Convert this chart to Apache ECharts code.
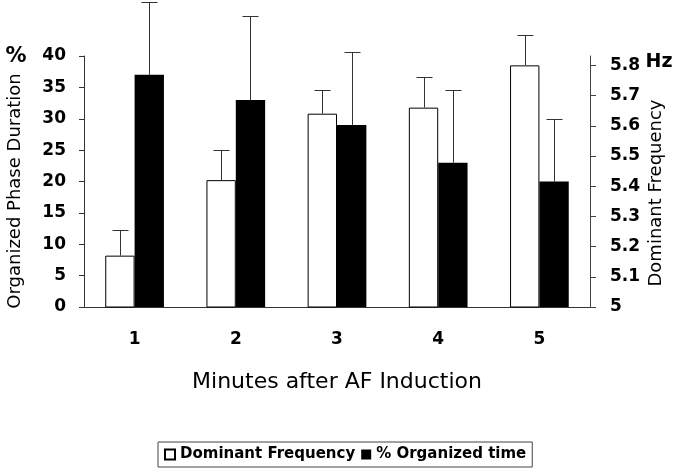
<!DOCTYPE html>
<html>
<head>
<meta charset="utf-8">
<script src="https://cdn.jsdelivr.net/npm/echarts@6/dist/echarts.min.js"></script>
<style>
  html, body { margin: 0; padding: 0; background: #fff; }
  #main { width: 676px; height: 472px; }
</style>
</head>
<body>
<div id="main"></div>
<script>
// minutes after induction
var minutes = ['1', '2', '3', '4', '5'];
// dominant frequency (Hz), right axis
var domFreq = [5.17, 5.42, 5.64, 5.66, 5.80];
var domFreqErr = [0.085, 0.10, 0.08, 0.10, 0.10];
// % organized time, left axis
var orgTime = [37, 33, 29, 23, 20];
var orgTimeErr = [11.6, 13.4, 11.7, 11.6, 9.9];
// right axis tick labels
var hzTicks = [5, 5.1, 5.2, 5.3, 5.4, 5.5, 5.6, 5.7, 5.8];

var FONT = 'DejaVu Sans';
var myChart = echarts.init(document.getElementById('main'));

// error bar drawn above the bar; shift -1 = left bar, +1 = right bar
function errorBar(shift) {
  return function (params, api) {
    var band = api.size([1, 0])[0];
    var dx = band * 0.58 / 4 * shift;
    var base = api.coord([api.value(0), api.value(1)]);
    var top = api.coord([api.value(0), api.value(1) + api.value(2)]);
    var x = Math.round(base[0] + dx) + 0.5;
    var yTop = Math.round(top[1]) + 0.5;
    var style = { stroke: '#333', lineWidth: 1 };
    return {
      type: 'group',
      children: [
        { type: 'line', shape: { x1: x, y1: base[1], x2: x, y2: yTop }, style: style },
        { type: 'line', shape: { x1: x - 8, y1: yTop, x2: x + 8, y2: yTop }, style: style }
      ]
    };
  };
}

var option = {
  animation: false,
  backgroundColor: '#fff',
  grid: { left: 84, right: 86, top: 56, bottom: 165 },
  legend: {
    data: ['Dominant Frequency', '% Organized time'],
    left: 158,
    top: 442,
    padding: [5, 6],
    itemGap: 6,
    itemWidth: 10,
    itemHeight: 10,
    icon: 'rect',
    borderColor: '#444',
    borderWidth: 1,
    textStyle: { fontFamily: FONT, fontWeight: 'bold', fontSize: 15, color: '#000' }
  },
  xAxis: {
    type: 'category',
    data: minutes,
    name: 'Minutes after AF Induction',
    nameLocation: 'middle',
    nameGap: 64,
    nameTextStyle: { fontFamily: FONT, fontSize: 22, color: '#000' },
    axisLine: { lineStyle: { color: '#333', width: 1 } },
    axisTick: { length: 6, lineStyle: { color: '#333' } },
    axisLabel: { margin: 24, fontFamily: FONT, fontWeight: 'bold', fontSize: 17, color: '#000' }
  },
  yAxis: [
    {
      type: 'value',
      min: 0,
      max: 40,
      interval: 5,
      splitLine: { show: false },
      axisLine: { show: true, lineStyle: { color: '#333', width: 1 } },
      axisTick: { show: true, length: 5, lineStyle: { color: '#333' } },
      axisLabel: { margin: 18, fontFamily: FONT, fontWeight: 'bold', fontSize: 17, color: '#000' }
    },
    {
      type: 'value',
      min: 5,
      max: 5.831,
      interval: 0.1,
      position: 'right',
      splitLine: { show: false },
      axisLine: { show: true, lineStyle: { color: '#444', width: 1 } },
      axisTick: { show: true, length: 6, customValues: hzTicks, lineStyle: { color: '#444' } },
      axisLabel: { margin: 20, customValues: hzTicks, fontFamily: FONT, fontWeight: 'bold', fontSize: 17, color: '#000' }
    }
  ],
  graphic: [
    {
      type: 'text', x: 15, y: 191, rotation: Math.PI / 2,
      style: { text: 'Organized Phase Duration', font: '18px "DejaVu Sans"', fill: '#000', align: 'center', verticalAlign: 'middle' }
    },
    {
      type: 'text', x: 656, y: 193, rotation: Math.PI / 2,
      style: { text: 'Dominant Frequency', font: '18px "DejaVu Sans"', fill: '#000', align: 'center', verticalAlign: 'middle' }
    },
    {
      type: 'text', x: 16, y: 57,
      style: { text: '%', font: 'bold 21px "DejaVu Sans"', fill: '#000', align: 'center', verticalAlign: 'middle' }
    },
    {
      type: 'text', x: 659, y: 62,
      style: { text: 'Hz', font: 'bold 19px "DejaVu Sans"', fill: '#000', align: 'center', verticalAlign: 'middle' }
    }
  ],
  series: [
    {
      name: 'Dominant Frequency',
      type: 'bar',
      yAxisIndex: 1,
      barGap: '0%',
      barCategoryGap: '42%',
      itemStyle: { color: '#fff', borderColor: '#000', borderWidth: 1 },
      data: domFreq
    },
    {
      name: '% Organized time',
      type: 'bar',
      yAxisIndex: 0,
      barGap: '0%',
      barCategoryGap: '42%',
      itemStyle: { color: '#000' },
      data: orgTime
    },
    {
      name: 'dfErr',
      type: 'custom',
      yAxisIndex: 1,
      z: 3,
      renderItem: errorBar(-1),
      encode: { x: 0, y: 1 },
      data: domFreq.map(function (v, i) { return [i, v, domFreqErr[i]]; })
    },
    {
      name: 'otErr',
      type: 'custom',
      yAxisIndex: 0,
      z: 3,
      renderItem: errorBar(1),
      encode: { x: 0, y: 1 },
      data: orgTime.map(function (v, i) { return [i, v, orgTimeErr[i]]; })
    }
  ]
};

myChart.setOption(option);
</script>
</body>
</html>
